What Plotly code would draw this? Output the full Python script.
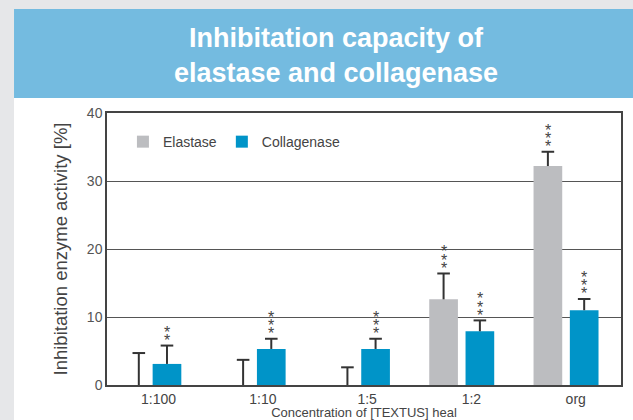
import plotly.graph_objects as go

# ---- data ----
categories = ["1:100", "1:10", "1:5", "1:2", "org"]
elastase = [0.0, 0.0, 0.0, 12.6, 32.2]
elastase_sd = [4.7, 3.7, 2.6, 3.8, 2.1]
collagenase = [3.1, 5.3, 5.3, 7.9, 11.0]
collagenase_sd = [2.7, 1.5, 1.5, 1.6, 1.65]
elastase_stars = [0, 0, 0, 3, 3]
collagenase_stars = [2, 3, 3, 3, 3]
y_ticks = [0, 10, 20, 30, 40]

# ---- style ----
GRAY = "#bcbdc0"
BLUE = "#0094c8"
ERR = "#333333"
FONT = "Liberation Sans"
bar_w = 0.275
off_el = -0.267      # elastase bar offset from tick
off_el_zero = -0.189 # error bar position for zero-height elastase bars
off_col = 0.081

idx = list(range(len(categories)))
x_el = [i + off_el for i in idx]
x_col = [i + off_col for i in idx]
x_el_err = [i + (off_el_zero if v == 0 else off_el) for i, v in zip(idx, elastase)]

# error stems (no caps) + separate top caps
stem_style = dict(type="data", symmetric=False, color=ERR, thickness=2, width=0)
cap_marker = dict(symbol="line-ew", size=9, line=dict(width=2, color=ERR), color=ERR)

fig = go.Figure()
fig.add_trace(go.Bar(
    x=x_el, y=elastase, width=bar_w, name="Elastase",
    marker=dict(color=GRAY, line=dict(width=0)),
))
fig.add_trace(go.Bar(
    x=x_col, y=collagenase, width=bar_w, name="Collagenase",
    marker=dict(color=BLUE, line=dict(width=0)),
))
for xs, vals, sds in [(x_el_err, elastase, elastase_sd), (x_col, collagenase, collagenase_sd)]:
    tops = [v + s for v, s in zip(vals, sds)]
    fig.add_trace(go.Scatter(
        x=xs, y=vals, mode="markers", showlegend=False, hoverinfo="skip",
        marker=dict(size=1, opacity=0),
        error_y=dict(array=sds, arrayminus=[0] * len(idx), **stem_style),
    ))
    fig.add_trace(go.Scatter(
        x=xs, y=tops, mode="markers", showlegend=False, hoverinfo="skip",
        marker=cap_marker,
    ))

# significance stars
annotations = []
for xs, vals, sds, stars in [(x_el_err, elastase, elastase_sd, elastase_stars),
                             (x_col, collagenase, collagenase_sd, collagenase_stars)]:
    for x, v, s, n in zip(xs, vals, sds, stars):
        for k in range(n):
            annotations.append(dict(
                x=x, y=v + s, xref="x", yref="y", text="*", showarrow=False,
                yanchor="middle", yshift=5 + 8.3 * k,
                font=dict(family=FONT, size=16, color="#444444"),
            ))

# page background panels
shapes = [
    dict(type="rect", xref="paper", yref="paper", x0=-0.1809, x1=1.03, y0=-0.2, y1=1.0551,
         fillcolor="white", line=dict(width=0), layer="below"),
    dict(type="rect", xref="paper", yref="paper", x0=-0.1809, x1=1.03, y0=1.0551, y1=1.3824,
         fillcolor="#74bbe0", line=dict(width=0), layer="below"),
]

fig.update_layout(
    width=633, height=420,
    margin=dict(l=107, r=12, t=113, b=35, autoexpand=False),
    paper_bgcolor="#e6e7e9",
    plot_bgcolor="white",
    barmode="overlay",
    title=dict(
        text="Inhibitation capacity of<br>elastase and collagenase",
        x=336 / 633, xref="container", xanchor="center",
        y=1 - 47 / 420, yref="container", yanchor="middle",
        font=dict(family=FONT, size=27, color="white", weight="bold"),
    ),
    legend=dict(
        orientation="h", x=0.031, y=0.952, xanchor="left", yanchor="top",
        bgcolor="rgba(0,0,0,0)", font=dict(family=FONT, size=14, color="#444444"),
        traceorder="normal",
    ),
    shapes=shapes,
    annotations=annotations,
    font=dict(family=FONT, color="#444444"),
)

fig.update_xaxes(
    range=[-0.494, 4.434], tickvals=idx, ticktext=categories, automargin=False,
    showgrid=False, zeroline=False, showline=True, mirror=True,
    linecolor="#444444", linewidth=1.5, ticks="",
    tickfont=dict(family=FONT, size=14, color="#444444"),
    title=dict(text="Concentration of [TEXTUS] heal", standoff=2,
               font=dict(family=FONT, size=13, color="#444444")),
)
fig.update_yaxes(
    range=[0, 40], tickvals=y_ticks, automargin=False,
    showgrid=True, gridcolor="#555555", gridwidth=1,
    zeroline=False, showline=True, mirror=True,
    linecolor="#444444", linewidth=1.5, ticks="",
    tickfont=dict(family=FONT, size=14, color="#555555"),
    title=dict(text="Inhibitation enzyme activity [%]", standoff=14,
               font=dict(family=FONT, size=18.5, color="#444444")),
)

fig.write_html("out.html", config={"displayModeBar": False},
               post_script="document.body.style.margin='0';")
